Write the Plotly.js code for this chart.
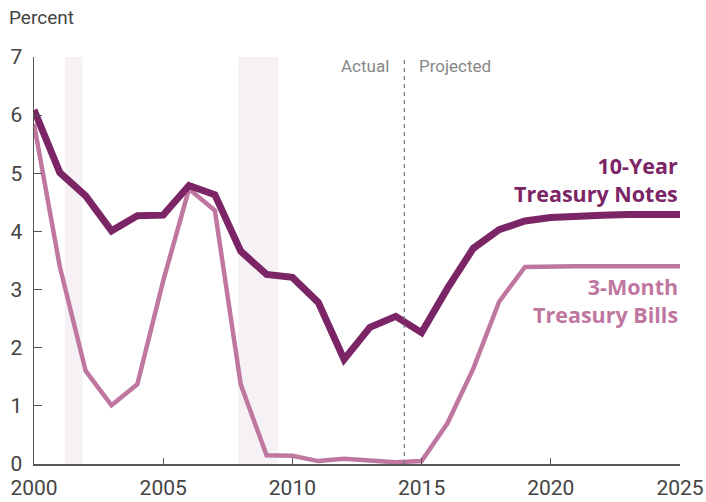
<!DOCTYPE html>
<html>
<head>
<meta charset="utf-8">
<script src="https://cdn.plot.ly/plotly-3.0.1.min.js"></script>
<style>html,body{margin:0;padding:0;background:#fff;}#chart{width:706px;height:502px;}</style>
</head>
<body>
<div id="chart"></div>
<script>
const years = [2000,2001,2002,2003,2004,2005,2006,2007,2008,2009,2010,2011,2012,2013,2014,2015,2016,2017,2018,2019,2020,2021,2022,2023,2024,2025];
const tenYear = [6.09,5.01,4.61,4.01,4.27,4.28,4.79,4.63,3.66,3.26,3.21,2.78,1.80,2.35,2.54,2.26,3.02,3.71,4.03,4.18,4.24,4.27,4.28,4.29,4.29,4.29];
const threeMonth = [5.85,3.39,1.60,1.01,1.37,3.15,4.73,4.36,1.37,0.15,0.14,0.05,0.09,0.06,0.03,0.05,0.70,1.64,2.79,3.39,3.40,3.40,3.40,3.40,3.40,3.40];
const recessions = [[2001.2,2001.87],[2007.9,2009.45]];
const splitYear = 2014.33;
const yTicks = [0,1,2,3,4,5,6,7];
const xTicks = [2000,2005,2010,2015,2020,2025];

const font = "Roboto, 'Open Sans', sans-serif";
const boldFont = "'Open Sans', Roboto, sans-serif";
const darkC = '#7b2566';
const lightC = '#bf77a0';

const shapes = recessions.map(r => ({
  type:'rect', xref:'x', yref:'y', x0:r[0], x1:r[1], y0:0, y1:7,
  fillcolor:'#f6f1f5', line:{width:0}, layer:'below'
}));
shapes.push({type:'line', xref:'x', yref:'y', x0:splitYear, x1:splitYear, y0:0, y1:7,
  line:{color:'#777', width:1.2, dash:'4px,4px'}});

const data = [
  {x:years, y:threeMonth, type:'scatter', mode:'lines', line:{color:lightC, width:4.5}, hoverinfo:'skip'},
  {x:years, y:tenYear, type:'scatter', mode:'lines', line:{color:darkC, width:7}, hoverinfo:'skip'}
];

const layout = {
  width:706, height:502,
  margin:{l:34, r:26, t:57, b:38},
  paper_bgcolor:'#fff', plot_bgcolor:'#fff',
  showlegend:false,
  font:{family:font, color:'#444', size:20},
  xaxis:{range:[2000,2025], tickvals:xTicks, ticktext:xTicks.map(String), ticks:'inside', ticklen:6, tickcolor:'#555', tickwidth:1.2,
    showline:true, linecolor:'#555', linewidth:1.5, showgrid:false, zeroline:false, fixedrange:true,
    ticklabelstandoff:4,
    tickfont:{family:font, size:21, color:'#444'}},
  yaxis:{range:[0,7], tickvals:yTicks, ticks:'inside', ticklen:8, tickcolor:'#555', tickwidth:1.2,
    showline:true, linecolor:'#555', linewidth:1.5, showgrid:false, zeroline:false, fixedrange:true,
    ticklabelstandoff:6,
    tickfont:{family:font, size:21, color:'#444'}},
  shapes:shapes,
  annotations:[
    {xref:'paper', yref:'paper', x:-0.042, y:1.096, xanchor:'left', yanchor:'middle', text:'Percent', showarrow:false,
      font:{family:font, size:19, color:'#444'}},
    {xref:'x', yref:'y', x:splitYear-0.5, y:6.85, xanchor:'right', yanchor:'middle', text:'Actual', showarrow:false,
      font:{family:font, size:17, color:'#888'}},
    {xref:'x', yref:'y', x:splitYear+0.5, y:6.85, xanchor:'left', yanchor:'middle', text:'Projected', showarrow:false,
      font:{family:font, size:17, color:'#888'}},
    {xref:'x', yref:'y', x:2025, y:4.90, xanchor:'right', yanchor:'middle', align:'right', text:'<b>10-Year<br>Treasury Notes</b>', showarrow:false,
      font:{family:boldFont, size:21.5, color:darkC}},
    {xref:'x', yref:'y', x:2025, y:2.82, xanchor:'right', yanchor:'middle', align:'right', text:'<b>3-Month<br>Treasury Bills</b>', showarrow:false,
      font:{family:boldFont, size:21.5, color:lightC}}
  ]
};

Plotly.newPlot('chart', data, layout, {displayModeBar:false, staticPlot:true});
</script>
</body>
</html>
